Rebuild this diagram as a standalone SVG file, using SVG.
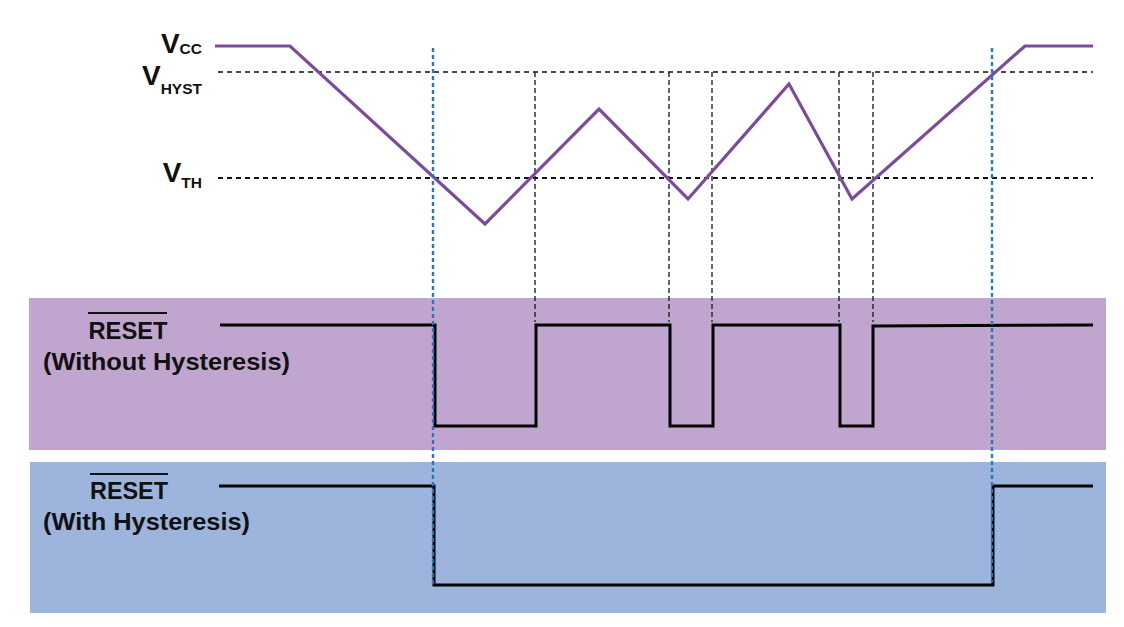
<svg xmlns="http://www.w3.org/2000/svg" width="1124" height="627" viewBox="0 0 1124 627">
<style>
.lbl{font-family:"Liberation Sans",Arial,sans-serif;font-weight:bold;fill:#111;}
.big{font-size:28px;}
.sub{font-size:15.5px;}
.name{font-size:24.5px;}
.ref{stroke:#111;stroke-width:1.3;stroke-dasharray:5 4;fill:none;}
.th{stroke:#111;stroke-width:2;stroke-dasharray:5 4;fill:none;}
.vd{stroke:#222;stroke-width:1.4;stroke-dasharray:5 3;fill:none;}
.blue{stroke:#2479b8;stroke-width:2.4;stroke-dasharray:4 3;fill:none;}
.wave{stroke:#000;stroke-width:3;fill:none;stroke-linejoin:miter;}
.vcc{stroke:#7b4c9e;stroke-width:3.2;fill:none;stroke-linejoin:miter;}
.bar{stroke:#111;stroke-width:2;}
</style>
<rect width="1124" height="627" fill="#fff"/>
<g id="bands">
<rect id="band-without" x="29" y="298" width="1077" height="152" fill="#c0a6ce"/>
<rect id="band-with" x="30" y="462" width="1076" height="151" fill="#9db4dd"/>
</g>
<g id="labels">
<g id="label-vcc"><text class="lbl" x="202" y="53" text-anchor="end"><tspan class="big">V</tspan><tspan class="sub" dy="1">CC</tspan></text></g>
<g id="label-vhyst"><text class="lbl" x="202" y="85" text-anchor="end"><tspan class="big">V</tspan><tspan class="sub" dy="9">HYST</tspan></text></g>
<g id="label-vth"><text class="lbl" x="202" y="182" text-anchor="end"><tspan class="big">V</tspan><tspan class="sub" dy="6">TH</tspan></text></g>
<g id="label-reset-without">
<text class="lbl name" x="128" y="339" text-anchor="middle" textLength="79" lengthAdjust="spacingAndGlyphs">RESET</text>
<line class="bar" x1="88" y1="313" x2="167" y2="313"/>
<text class="lbl name" x="43" y="370" textLength="247" lengthAdjust="spacingAndGlyphs">(Without Hysteresis)</text>
</g>
<g id="label-reset-with">
<text class="lbl name" x="129" y="499" text-anchor="middle" textLength="78" lengthAdjust="spacingAndGlyphs">RESET</text>
<line class="bar" x1="90" y1="474" x2="168" y2="474"/>
<text class="lbl name" x="43" y="530" textLength="207" lengthAdjust="spacingAndGlyphs">(With Hysteresis)</text>
</g>
</g>
<g id="connectors">
<line class="ref" x1="218" y1="72" x2="1093" y2="72"/>
<line class="th" x1="218" y1="178" x2="1093" y2="178"/>
<line class="vd" x1="535" y1="72" x2="535" y2="322"/>
<line class="vd" x1="669" y1="72" x2="669" y2="322"/>
<line class="vd" x1="712" y1="72" x2="712" y2="322"/>
<line class="vd" x1="839" y1="72" x2="839" y2="322"/>
<line class="vd" x1="873" y1="72" x2="873" y2="322"/>
</g>
<g id="vcc-wave">
<polyline class="vcc" points="215,46 290,46 485,224 599,109 688,199 789,84 852,199 1025,46 1093,46"/>
</g>
<g id="reset-without-wave">
<polyline class="wave" points="220,325 435,325 435,426 536,426 536,325 670,325 670,426 713,426 713,325 840,325 840,426 873,426 873,326 1093,325"/>
</g>
<g id="reset-with-wave">
<polyline class="wave" points="219,486 434,486 434,585 993,585 993,486 1093,486"/>
</g>
<g id="markers">
<line class="blue" x1="433" y1="48" x2="433" y2="585"/>
<line class="blue" x1="992" y1="48" x2="992" y2="582"/>
</g>
</svg>
